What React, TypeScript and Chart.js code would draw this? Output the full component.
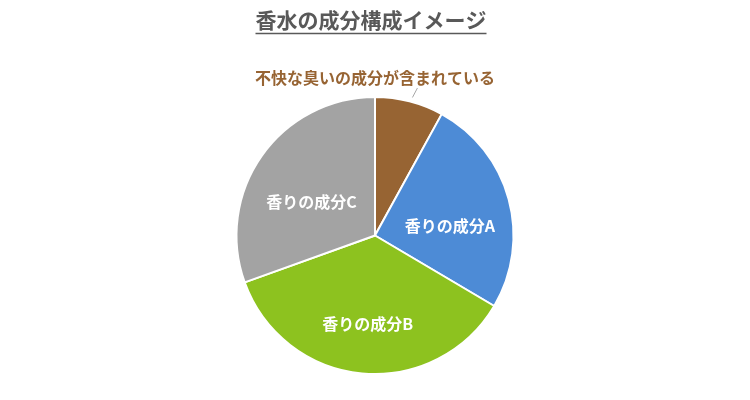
import { useRef, useEffect } from 'react'
import { Chart, registerables } from 'chart.js'
import type { Plugin } from 'chart.js'

Chart.register(...registerables)

const TITLE = '香水の成分構成イメージ'
const labels = ['不快な臭いの成分が含まれている', '香りの成分A', '香りの成分B', '香りの成分C']
const values = [8, 25.5, 36, 30.5]
const colors = ['#976433', '#4d8bd6', '#8dc21f', '#a3a3a3']

const FONT = '"Noto Sans CJK JP", "Noto Sans", sans-serif'

// タイトル（下線付き）
const titlePlugin: Plugin<'pie'> = {
  id: 'underlinedTitle',
  afterDraw(chart) {
    const ctx = chart.ctx
    ctx.save()
    ctx.font = `bold 21px ${FONT}`
    ctx.fillStyle = '#595959'
    ctx.textAlign = 'center'
    ctx.textBaseline = 'middle'
    const x = chart.width / 2 - 4
    ctx.fillText(TITLE, x, 20)
    const w = ctx.measureText(TITLE).width
    ctx.strokeStyle = '#595959'
    ctx.lineWidth = 1.5
    ctx.beginPath()
    ctx.moveTo(x - w / 2, 33.5)
    ctx.lineTo(x + w / 2, 33.5)
    ctx.stroke()
    ctx.restore()
  },
}

// データラベル
const labelPlugin: Plugin<'pie'> = {
  id: 'sliceLabels',
  afterDatasetsDraw(chart) {
    const ctx = chart.ctx
    const meta = chart.getDatasetMeta(0)
    ctx.save()
    ctx.font = `bold 16px ${FONT}`
    ctx.textAlign = 'center'
    ctx.textBaseline = 'middle'
    meta.data.forEach((el: any, i) => {
      const { x, y, startAngle, endAngle, outerRadius } = el.getProps(
        ['x', 'y', 'startAngle', 'endAngle', 'outerRadius'],
        true
      )
      const mid = (startAngle + endAngle) / 2
      if (i === 0) {
        // 外側ラベル + 引き出し線
        const lx = x
        const ly = y - outerRadius - 19
        ctx.fillStyle = colors[0]
        ctx.fillText(labels[i], lx, ly)
        const ex = x + Math.cos(mid) * (outerRadius + 4)
        const ey = y + Math.sin(mid) * (outerRadius + 4)
        ctx.strokeStyle = '#a6a6a6'
        ctx.lineWidth = 1
        ctx.beginPath()
        ctx.moveTo(ex + 2, ey)
        ctx.lineTo(ex + 7, ly + 10)
        ctx.stroke()
        return
      }
      const r = outerRadius * 0.56
      ctx.fillStyle = '#ffffff'
      ctx.fillText(labels[i], x + Math.cos(mid) * r, y + Math.sin(mid) * r + 11)
    })
    ctx.restore()
  },
}

function PieChart() {
  const chartRef = useRef<HTMLCanvasElement>(null)
  const chartInstance = useRef<Chart | null>(null)

  useEffect(() => {
    document.body.style.margin = '0'
    if (!chartRef.current) return
    if (chartInstance.current) chartInstance.current.destroy()
    const ctx = chartRef.current.getContext('2d')
    if (!ctx) return

    chartInstance.current = new Chart(ctx, {
      type: 'pie',
      data: {
        labels,
        datasets: [
          {
            data: values,
            backgroundColor: colors,
            borderColor: '#ffffff',
            borderWidth: 2,
          },
        ],
      },
      options: {
        responsive: true,
        maintainAspectRatio: false,
        animation: false,
        layout: { padding: { top: 96, bottom: 25 } },
        plugins: {
          legend: { display: false },
          tooltip: { enabled: false },
          title: { display: false },
        },
      },
      plugins: [titlePlugin, labelPlugin],
    })

    return () => {
      if (chartInstance.current) {
        chartInstance.current.destroy()
        chartInstance.current = null
      }
    }
  }, [])

  return (
    <div style={{ height: '400px', width: '750px', background: '#ffffff' }}>
      <canvas ref={chartRef} />
    </div>
  )
}

export default function App() {
  return <PieChart />
}
